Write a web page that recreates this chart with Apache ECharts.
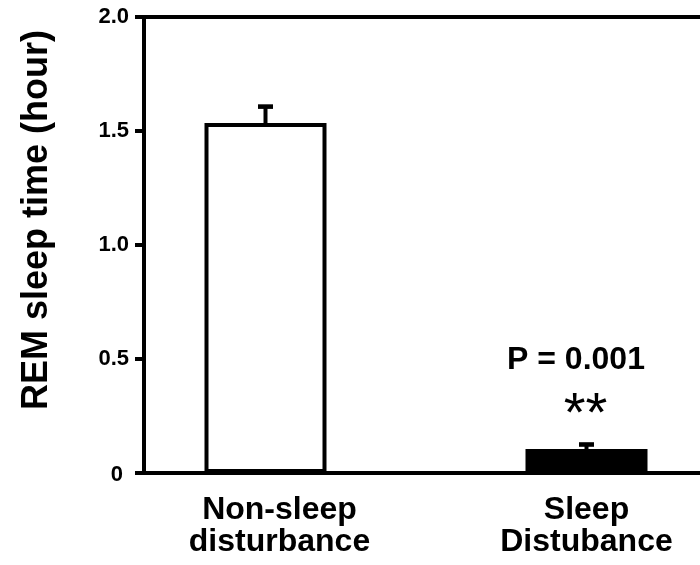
<!DOCTYPE html>
<html>
<head>
<meta charset="utf-8">
<script src="https://cdn.jsdelivr.net/npm/echarts@6/dist/echarts.min.js"></script>
<style>
html,body{margin:0;padding:0;background:#fff;}
#chart{width:700px;height:565px;}
</style>
</head>
<body>
<div id="chart"></div>
<script>
const categories = ['Non-sleep\ndisturbance', 'Sleep\nDistubance'];
const means = [1.535, 0.105];
const errors = [0.072, 0.02];
const barColors = ['#ffffff', '#000000'];
const yTickLabels = ['0', '0.5', '1.0', '1.5', '2.0'];
const pTexts = ['', 'P = 0.001'];
const starTexts = ['', '**'];
const yTitle = 'REM sleep time (hour)';

const FONT = 'Liberation Sans, Arial, Helvetica, sans-serif';

const chart = echarts.init(document.getElementById('chart'), null, {renderer: 'canvas'});

const frameAxis = (pos) => ({
  gridIndex: 0, type: 'value', position: pos, min: 0, max: 1,
  axisLine: {show: true, onZero: false, lineStyle: {color: '#000', width: 4}},
  axisTick: {show: false}, axisLabel: {show: false}, splitLine: {show: false}
});

const option = {
  backgroundColor: '#ffffff',
  animation: false,
  grid: [
    {left: 144, right: 0, top: 17, bottom: 92, containLabel: false, outerBoundsMode: 'none'},
    {left: 105, right: -47, top: 17, bottom: 92, containLabel: false, outerBoundsMode: 'none'}
  ],
  xAxis: [
    frameAxis('bottom'),
    frameAxis('top'),
    {
      gridIndex: 1, type: 'category',
      data: categories.map((c, i) => i === 0 ? {value: c, textStyle: {padding: [0, 0, 0, 28]}} : c),
      axisLine: {show: false}, axisTick: {show: false}, splitLine: {show: false},
      axisLabel: {interval: 0, color: '#000', fontFamily: FONT, fontWeight: 'bold', fontSize: 32, lineHeight: 32, margin: 21}
    }
  ],
  yAxis: [
    {
      gridIndex: 0, type: 'value', min: 0, max: 2, interval: 0.5,
      axisLine: {show: true, lineStyle: {color: '#000', width: 4}},
      axisTick: {show: true, length: 9, lineStyle: {color: '#000', width: 4}},
      splitLine: {show: false},
      axisLabel: {
        color: '#000', fontFamily: FONT, fontWeight: 'bold', fontSize: 22, margin: 15,
        formatter: (v) => {
          const s = yTickLabels[Math.round(v / 0.5)];
          return v === 0 ? '{z|' + s + '}' : s;
        },
        rich: {z: {color: '#000', fontFamily: FONT, fontWeight: 'bold', fontSize: 22, padding: [4, 6, 0, 0]}}
      },
      name: yTitle, nameLocation: 'middle', nameGap: 89,
      nameTextStyle: {color: '#000', fontFamily: FONT, fontWeight: 'bold', fontSize: 36, padding: [0, 0, 0, 50]}
    },
    {gridIndex: 1, type: 'value', min: 0, max: 2, show: false}
  ],
  series: [
    {
      type: 'bar', xAxisIndex: 2, yAxisIndex: 1, barWidth: 122,
      data: means.map((m, i) => ({value: m, itemStyle: {color: barColors[i]}})),
      itemStyle: {borderColor: '#000', borderWidth: 4},
      z: 2
    },
    {
      type: 'custom', xAxisIndex: 2, yAxisIndex: 1, z: 3,
      encode: {x: 0, y: 1},
      data: means.map((m, i) => [i, m, errors[i]]),
      renderItem: (params, api) => {
        const i = api.value(0), m = api.value(1), e = api.value(2);
        const base = api.coord([i, m]);
        const top = api.coord([i, m + e]);
        const children = [
          {type: 'line', shape: {x1: top[0], y1: base[1], x2: top[0], y2: top[1]}, style: {stroke: '#000', lineWidth: 4}},
          {type: 'line', shape: {x1: top[0] - 7.5, y1: top[1], x2: top[0] + 7.5, y2: top[1]}, style: {stroke: '#000', lineWidth: 4.6}}
        ];
        const idx = params.dataIndex;
        if (pTexts[idx]) {
          children.push({type: 'text', x: top[0] - 10.5, y: top[1] - 84.5,
            style: {text: pTexts[idx], fill: '#000', fontFamily: FONT, fontWeight: 'bold', fontSize: 32, align: 'center', verticalAlign: 'middle'}});
        }
        if (starTexts[idx]) {
          children.push({type: 'text', x: top[0] - 1, y: top[1] - 28.5,
            style: {text: starTexts[idx], fill: '#000', fontFamily: FONT, fontWeight: 'normal', fontSize: 56, align: 'center', verticalAlign: 'middle'}});
        }
        return {type: 'group', children: children};
      }
    }
  ]
};
chart.setOption(option);
</script>
</body>
</html>
